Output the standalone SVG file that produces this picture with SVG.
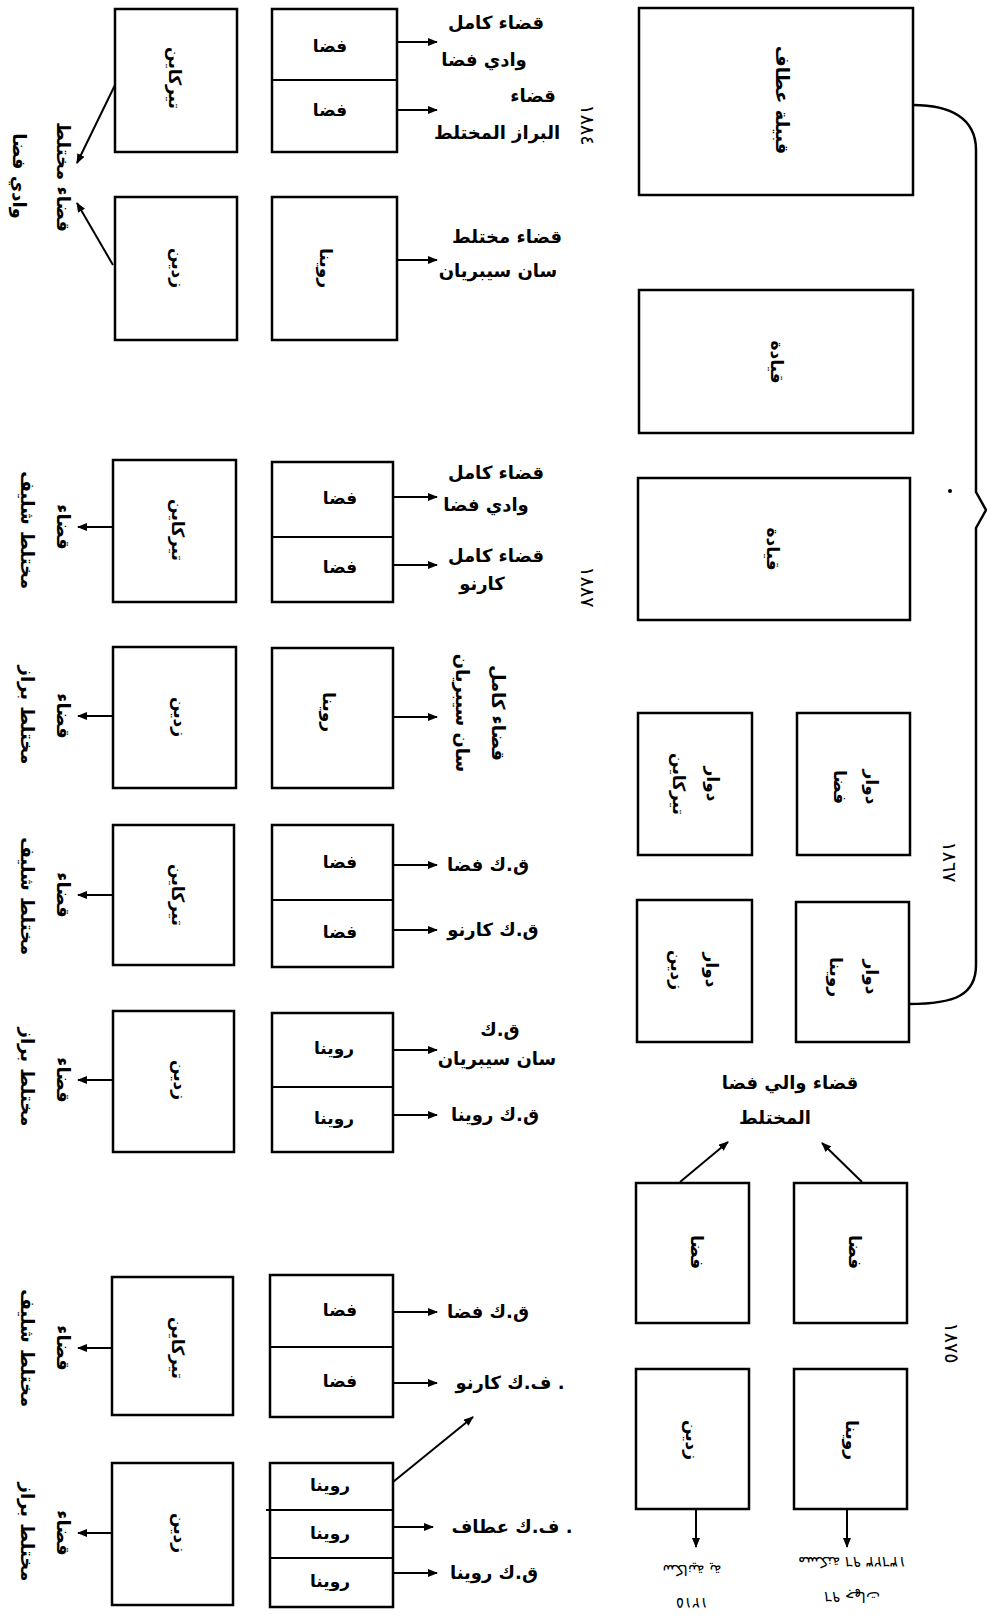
<svg xmlns="http://www.w3.org/2000/svg" width="987" height="1623" viewBox="0 0 987 1623">
<defs>
<marker id="ah" markerWidth="10" markerHeight="8" refX="9" refY="4" orient="auto" markerUnits="userSpaceOnUse"><path d="M0,0 L10,4 L0,8 z" fill="#000"/></marker>
<style>
.box{fill:none;stroke:#000;stroke-width:2.5}
.sep{stroke:#000;stroke-width:2}
.arr{fill:none;stroke:#000;stroke-width:2;marker-end:url(#ah)}
.brace{fill:none;stroke:#000;stroke-width:2.5}
text{font-family:"DejaVu Sans","Noto Sans",sans-serif;fill:#000;text-anchor:middle;dominant-baseline:central;direction:rtl}
.in{font-size:17px;font-weight:bold}
.lb{font-size:18px;font-weight:bold}
.yr{font-size:19px}
.hw{font-size:15px}
</style>
</defs>
<rect width="987" height="1623" fill="#fff"/>

<!-- 1884 group -->
<g id="g1884-tirkain"><rect class="box" x="115" y="9" width="122" height="143"/><text class="in" transform="translate(175,78) rotate(90)">تيركاين</text></g>
<g id="g1884-zeddine"><rect class="box" x="115" y="197" width="122" height="143"/><text class="in" transform="translate(178,268) rotate(90)">زدين</text></g>
<g id="g1884-fedda"><rect class="box" x="272" y="9" width="125" height="143"/><line class="sep" x1="272" y1="80" x2="397" y2="80"/><text class="in" x="330" y="46">فضا</text><text class="in" x="330" y="110">فضا</text></g>
<g id="g1884-rouina"><rect class="box" x="272" y="197" width="125" height="143"/><text class="in" transform="translate(326,268) rotate(90)">روينا</text></g>
<g id="g1884-labels">
<text class="lb" x="496" y="22">قضاء كامل</text>
<text class="lb" x="484" y="59">وادي فضا</text>
<text class="lb" x="533" y="95">قضاء</text>
<text class="lb" x="497" y="132">البراز المختلط</text>
<text class="lb" x="507" y="236">قضاء مختلط</text>
<text class="lb" x="498" y="270">سان سيبريان</text>
<text class="yr" transform="translate(588,125) rotate(90)">١٨٨٤</text>
<text class="lb" transform="translate(63,177) rotate(90)">قضاء مختلط</text>
<text class="lb" transform="translate(19,176) rotate(90)">وادي فضا</text>
</g>

<!-- 1887 group -->
<g id="g1887-tirkain"><rect class="box" x="113" y="460" width="123" height="142"/><text class="in" transform="translate(178,530) rotate(90)">تيركاين</text></g>
<g id="g1887-zeddine"><rect class="box" x="113" y="647" width="123" height="141"/><text class="in" transform="translate(180,717) rotate(90)">زدين</text></g>
<g id="g1887-fedda"><rect class="box" x="272" y="462" width="121" height="140"/><line class="sep" x1="272" y1="537" x2="393" y2="537"/><text class="in" x="340" y="498">فضا</text><text class="in" x="340" y="567">فضا</text></g>
<g id="g1887-rouina"><rect class="box" x="272" y="648" width="121" height="140"/><text class="in" transform="translate(329,712) rotate(90)">روينا</text></g>
<g id="g1887-labels">
<text class="lb" x="496" y="472">قضاء كامل</text>
<text class="lb" x="486" y="504">وادي فضا</text>
<text class="lb" x="496" y="555">قضاء كامل</text>
<text class="lb" x="482" y="583">كارنو</text>
<text class="lb" transform="translate(498,713) rotate(90)">قضاء كامل</text>
<text class="lb" transform="translate(462,713) rotate(90)">سان سيبريان</text>
<text class="yr" transform="translate(588,587) rotate(90)">١٨٨٧</text>
<text class="lb" transform="translate(63,527) rotate(90)">قضاء</text>
<text class="lb" transform="translate(27,530) rotate(90)">مختلط شليف</text>
<text class="lb" transform="translate(63,716) rotate(90)">قضاء</text>
<text class="lb" transform="translate(27,715) rotate(90)">مختلط براز</text>
</g>

<!-- third group -->
<g id="g3-tirkain"><rect class="box" x="113" y="825" width="121" height="140"/><text class="in" transform="translate(178,895) rotate(90)">تيركاين</text></g>
<g id="g3-zeddine"><rect class="box" x="113" y="1011" width="121" height="141"/><text class="in" transform="translate(180,1080) rotate(90)">زدين</text></g>
<g id="g3-fedda"><rect class="box" x="272" y="825" width="121" height="142"/><line class="sep" x1="272" y1="900" x2="393" y2="900"/><text class="in" x="340" y="862">فضا</text><text class="in" x="340" y="932">فضا</text></g>
<g id="g3-rouina"><rect class="box" x="272" y="1013" width="121" height="139"/><line class="sep" x1="272" y1="1087" x2="393" y2="1087"/><text class="in" x="334" y="1048">روينا</text><text class="in" x="334" y="1118">روينا</text></g>
<g id="g3-labels">
<text class="lb" x="488" y="864">ق.ك فضا</text>
<text class="lb" x="493" y="929">ق.ك كارنو</text>
<text class="lb" x="500" y="1029">ق.ك</text>
<text class="lb" x="497" y="1058">سان سيبريان</text>
<text class="lb" x="495" y="1114">ق.ك روينا</text>
<text class="lb" transform="translate(63,895) rotate(90)">قضاء</text>
<text class="lb" transform="translate(27,896) rotate(90)">مختلط شليف</text>
<text class="lb" transform="translate(63,1080) rotate(90)">قضاء</text>
<text class="lb" transform="translate(27,1077) rotate(90)">مختلط براز</text>
</g>

<!-- fourth group -->
<g id="g4-tirkain"><rect class="box" x="112" y="1277" width="121" height="138"/><text class="in" transform="translate(178,1348) rotate(90)">تيركاين</text></g>
<g id="g4-zeddine"><rect class="box" x="112" y="1463" width="121" height="142"/><text class="in" transform="translate(180,1533) rotate(90)">زدين</text></g>
<g id="g4-fedda"><rect class="box" x="270" y="1275" width="123" height="142"/><line class="sep" x1="270" y1="1347" x2="393" y2="1347"/><text class="in" x="340" y="1310">فضا</text><text class="in" x="340" y="1381">فضا</text></g>
<g id="g4-rouina"><rect class="box" x="270" y="1463" width="123" height="144"/><line class="sep" x1="266" y1="1510" x2="393" y2="1510"/><line class="sep" x1="270" y1="1558" x2="393" y2="1558"/><text class="in" x="330" y="1485">روينا</text><text class="in" x="330" y="1533">روينا</text><text class="in" x="330" y="1581">روينا</text></g>
<g id="g4-labels">
<text class="lb" x="488" y="1311">ق.ك فضا</text>
<text class="lb" x="510" y="1382">. ف.ك كارنو</text>
<text class="lb" x="512" y="1526">. ف.ك عطاف</text>
<text class="lb" x="494" y="1572">ق.ك روينا</text>
<text class="lb" transform="translate(63,1348) rotate(90)">قضاء</text>
<text class="lb" transform="translate(27,1348) rotate(90)">مختلط شليف</text>
<text class="lb" transform="translate(63,1533) rotate(90)">قضاء</text>
<text class="lb" transform="translate(27,1532) rotate(90)">مختلط براز</text>
</g>

<!-- right side -->
<g id="atteaf"><rect class="box" x="639" y="8" width="274" height="187"/><text class="lb" transform="translate(782,100) rotate(90)">قبيلة عطاف</text></g>
<g id="qiada1"><rect class="box" x="639" y="290" width="274" height="143"/><text class="in" transform="translate(777,362) rotate(90)">قيادة</text></g>
<g id="qiada2"><rect class="box" x="638" y="478" width="272" height="142"/><text class="in" transform="translate(773,549) rotate(90)">قيادة</text></g>
<g id="douar-tirkain"><rect class="box" x="638" y="713" width="114" height="142"/><text class="in" transform="translate(713,784) rotate(90)">دوار</text><text class="in" transform="translate(679,784) rotate(90)">تيركاين</text></g>
<g id="douar-fedda"><rect class="box" x="797" y="713" width="113" height="142"/><text class="in" transform="translate(872,787) rotate(90)">دوار</text><text class="in" transform="translate(840,787) rotate(90)">فضا</text></g>
<g id="douar-zeddine"><rect class="box" x="637" y="900" width="115" height="142"/><text class="in" transform="translate(712,970) rotate(90)">دوار</text><text class="in" transform="translate(677,970) rotate(90)">زدين</text></g>
<g id="douar-rouina"><rect class="box" x="796" y="902" width="113" height="140"/><text class="in" transform="translate(872,977) rotate(90)">دوار</text><text class="in" transform="translate(836,977) rotate(90)">روينا</text></g>
<g id="r-labels">
<text class="yr" transform="translate(950,862) rotate(90)">١٨٦٧</text>
<text class="lb" x="790" y="1082">قضاء والي فضا</text>
<text class="lb" x="775" y="1117">المختلط</text>
<text class="yr" transform="translate(952,1343) rotate(90)">١٨٧٥</text>
</g>
<g id="fedda-1875a"><rect class="box" x="636" y="1183" width="113" height="140"/><text class="in" transform="translate(697,1252) rotate(90)">فضا</text></g>
<g id="fedda-1875b"><rect class="box" x="794" y="1183" width="113" height="140"/><text class="in" transform="translate(855,1252) rotate(90)">فضا</text></g>
<g id="zeddine-1875"><rect class="box" x="636" y="1369" width="113" height="140"/><text class="in" transform="translate(692,1440) rotate(90)">زدين</text></g>
<g id="rouina-1875"><rect class="box" x="794" y="1369" width="113" height="140"/><text class="in" transform="translate(852,1440) rotate(90)">روينا</text></g>
<g id="bottom-notes">
<text class="hw" transform="translate(692,1603) rotate(180)">١٢١٥</text>
<text class="hw" transform="translate(692,1570) rotate(180)">سكانية ية</text>
<text class="hw" transform="translate(852,1597) rotate(180)">٩٦ جهات</text>
<text class="hw" transform="translate(852,1562) rotate(180)">مسكنة ٩٦ ١٣٦٢٣</text>
</g>

<g id="connectors">
<path class="arr" d="M397,42 L437,42"/>
<path class="arr" d="M397,110 L437,110"/>
<path class="arr" d="M397,260 L437,260"/>
<path class="arr" d="M115,85 L77,163"/>
<path class="arr" d="M113,265 L77,203"/>
<path class="arr" d="M393,497 L437,497"/>
<path class="arr" d="M393,565 L437,565"/>
<path class="arr" d="M393,717 L437,717"/>
<path class="arr" d="M113,527 L78,527"/>
<path class="arr" d="M113,716 L78,716"/>
<path class="arr" d="M393,865 L437,865"/>
<path class="arr" d="M393,930 L437,930"/>
<path class="arr" d="M393,1050 L437,1050"/>
<path class="arr" d="M393,1115 L437,1115"/>
<path class="arr" d="M113,895 L78,895"/>
<path class="arr" d="M113,1080 L78,1080"/>
<path class="arr" d="M393,1312 L437,1312"/>
<path class="arr" d="M393,1383 L437,1383"/>
<path class="arr" d="M393,1482 L473,1417"/>
<path class="arr" d="M393,1527 L433,1527"/>
<path class="arr" d="M393,1573 L437,1573"/>
<path class="arr" d="M112,1348 L78,1348"/>
<path class="arr" d="M112,1533 L78,1533"/>
<path class="arr" d="M680,1182 L728,1142"/>
<path class="arr" d="M862,1182 L822,1143"/>
<path class="arr" d="M696,1509 L696,1547"/>
<path class="arr" d="M847,1509 L847,1547"/>
<path class="brace" d="M913,105 C950,105 976,118 976,150 L976,492 L986,510 L976,528 L976,965 C976,995 955,1004 909,1004"/>
<circle cx="950" cy="491" r="2" fill="#000"/>
</g>
</svg>
